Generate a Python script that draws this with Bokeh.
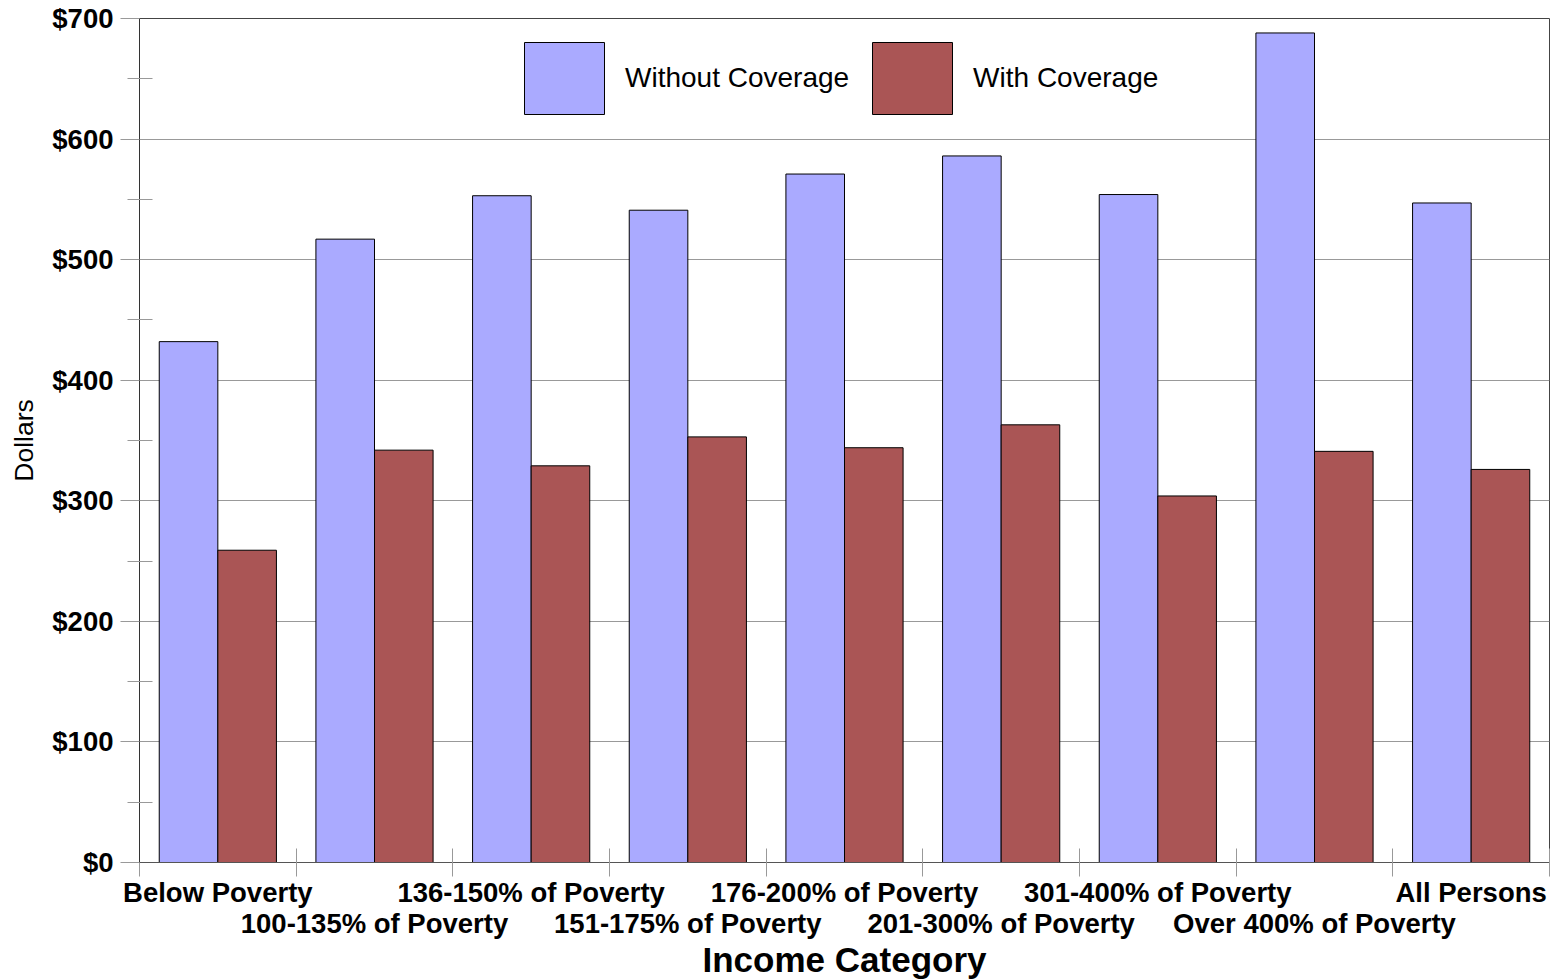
from bokeh.plotting import figure
from bokeh.models import (ColumnDataSource, Range1d, LinearAxis, FixedTicker, Legend, LegendItem, Grid)
from bokeh.transform import dodge
from bokeh.embed import file_html
from bokeh.resources import INLINE

categories = ["Below Poverty", "100-135% of Poverty", "136-150% of Poverty",
              "151-175% of Poverty", "176-200% of Poverty", "201-300% of Poverty",
              "301-400% of Poverty", "Over 400% of Poverty", "All Persons"]
without_coverage = [432, 517, 553, 541, 571, 586, 554, 688, 547]
with_coverage = [259, 342, 329, 353, 344, 363, 304, 341, 326]
y_ticks = [0, 100, 200, 300, 400, 500, 600, 700]
y_tick_labels = ["$0", "$100", "$200", "$300", "$400", "$500", "$600", "$700"]

n = len(categories)
pos = [i + 0.5 for i in range(n)]
src = ColumnDataSource(dict(x=pos, without=without_coverage, withc=with_coverage))

FONT = "Liberation Sans"
BLUE = "#AAAAFF"
RED = "#AA5555"
TICK_FS = "27.5px"

p = figure(frame_width=1410, frame_height=844, output_backend="svg", toolbar_location=None,
           x_range=Range1d(0, n), y_range=Range1d(0, 700),
           min_border_left=139, min_border_right=5, min_border_top=18, min_border_bottom=0,
           x_axis_type=None, y_axis_type=None)
p.background_fill_color = "white"
p.border_fill_color = "white"
p.outline_line_color = "#444444"
p.outline_line_width = 1

bw = 0.374
r1 = p.vbar(x=dodge("x", -0.187, range=p.x_range), top="without", width=bw, source=src,
            fill_color=BLUE, line_color="black", line_width=1)
r2 = p.vbar(x=dodge("x", 0.187, range=p.x_range), top="withc", width=bw, source=src,
            fill_color=RED, line_color="black", line_width=1)

# Y axis
yax = LinearAxis(ticker=FixedTicker(ticks=y_ticks, minor_ticks=[v + 50 for v in y_ticks[:-1]]))
yax.major_label_overrides = {v: s for v, s in zip(y_ticks, y_tick_labels)}
yax.major_label_text_font = FONT
yax.major_label_text_font_style = "bold"
yax.major_label_text_font_size = TICK_FS
yax.major_label_text_color = "black"
yax.major_label_standoff = 7
yax.major_tick_in = 0
yax.major_tick_out = 19
yax.minor_tick_in = 13
yax.minor_tick_out = 12
yax.major_tick_line_color = "#999999"
yax.minor_tick_line_color = "#999999"
yax.axis_line_color = "#333333"
yax.axis_label = "Dollars"
yax.axis_label_text_font = FONT
yax.axis_label_text_font_style = "normal"
yax.axis_label_text_font_size = "26.5px"
yax.axis_label_text_color = "black"
yax.axis_label_standoff = 10
p.add_layout(yax, "left")

# X axis, row 1 (even categories) with boundary ticks
even = [pos[i] for i in range(0, n, 2)]
odd = [pos[i] for i in range(1, n, 2)]
xax1 = LinearAxis(ticker=FixedTicker(ticks=even, minor_ticks=list(range(0, n + 1))))
xax1.major_label_overrides = {pos[i]: categories[i] for i in range(0, n, 2)}
xax1.major_tick_in = 0
xax1.major_tick_out = 0
xax1.minor_tick_in = 14
xax1.minor_tick_out = 14
xax1.minor_tick_line_color = "#999999"
xax1.axis_line_color = "#555555"
xax1.major_label_standoff = 0

xax2 = LinearAxis(ticker=FixedTicker(ticks=odd, minor_ticks=[]))
xax2.major_label_overrides = {pos[i]: categories[i] for i in range(1, n, 2)}
xax2.axis_line_color = None
xax2.major_tick_line_color = None
xax2.minor_tick_line_color = None
xax2.major_tick_in = 0
xax2.major_tick_out = 0
xax2.minor_tick_in = 0
xax2.minor_tick_out = 0
xax2.major_label_standoff = -3
xax2.axis_label = "Income Category"
xax2.axis_label_text_font = FONT
xax2.axis_label_text_font_style = "bold"
xax2.axis_label_text_font_size = "35px"
xax2.axis_label_text_color = "black"
xax2.axis_label_standoff = -2

for ax in (xax1, xax2):
    ax.major_label_text_font = FONT
    ax.major_label_text_font_style = "bold"
    ax.major_label_text_font_size = TICK_FS
    ax.major_label_text_color = "black"
p.add_layout(xax1, "below")
p.add_layout(xax2, "below")

g = Grid(dimension=1, ticker=FixedTicker(ticks=y_ticks), grid_line_color="#999999", grid_line_width=1)
p.add_layout(g)

legend = Legend(items=[LegendItem(label="Without Coverage", renderers=[r1]),
                       LegendItem(label="With Coverage", renderers=[r2])],
                orientation="horizontal", location=(375, 739))
legend.glyph_width = 100
legend.glyph_height = 90
legend.label_standoff = 11
legend.spacing = 13
legend.padding = 0
legend.margin = 0
legend.border_line_color = None
legend.background_fill_alpha = 0
legend.label_text_font = FONT
legend.label_text_font_size = "28px"
legend.label_text_color = "black"
p.add_layout(legend, "center")

open("out.html", "w").write(file_html(p, INLINE))
